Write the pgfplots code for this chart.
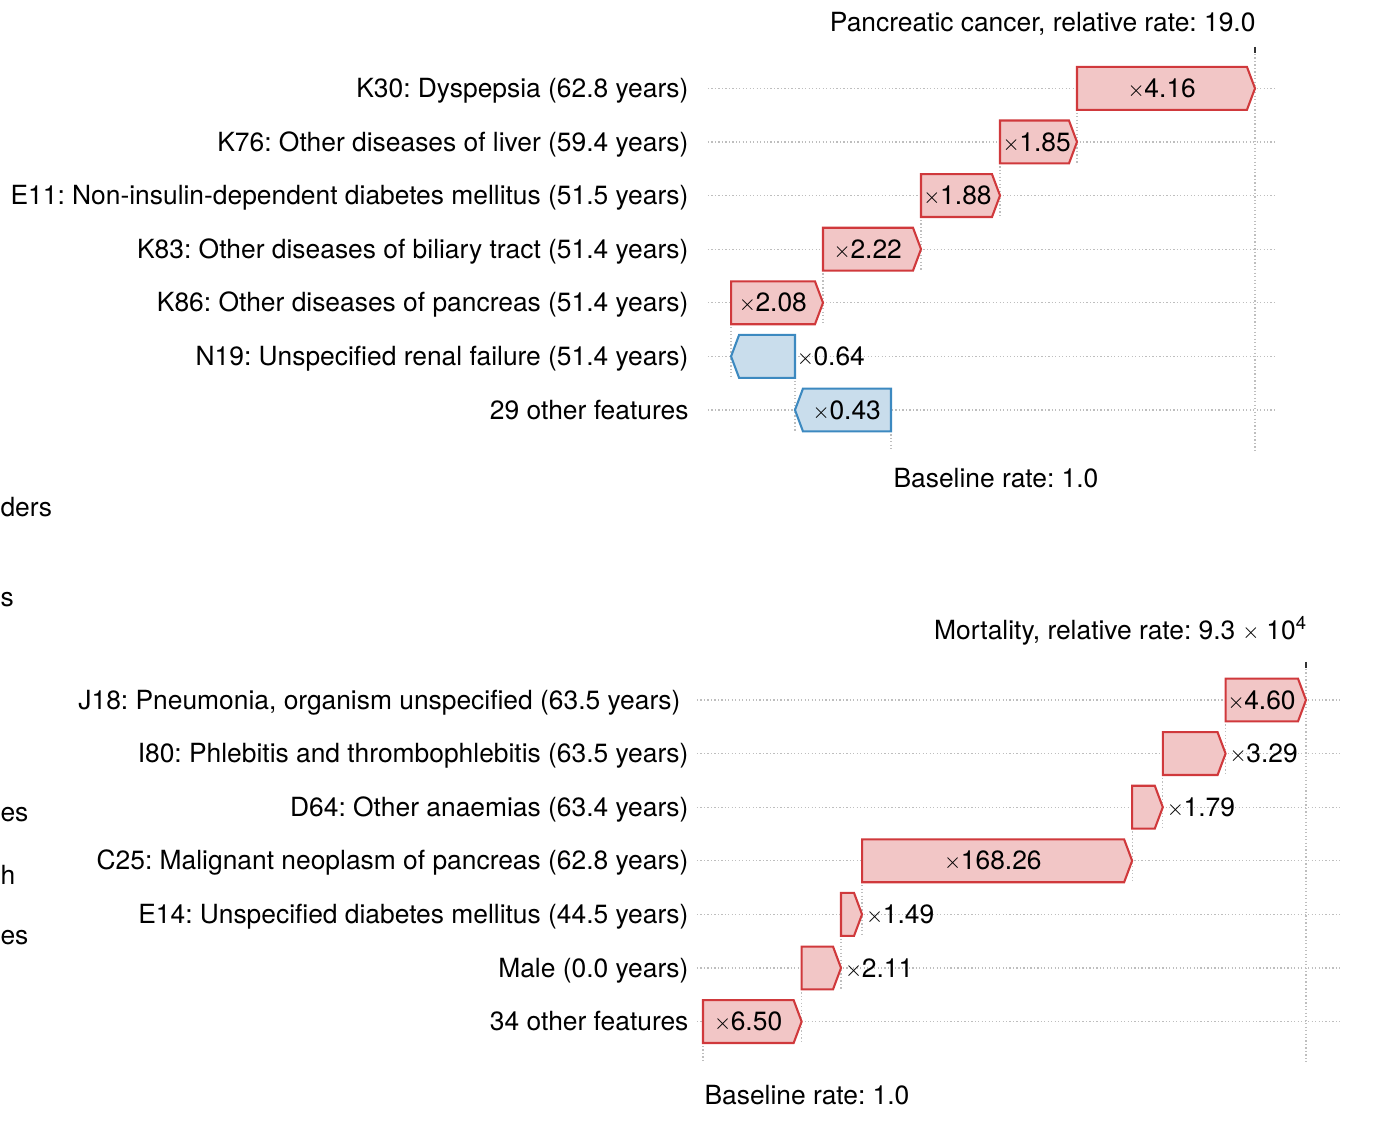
\documentclass[border=0pt]{standalone}
\usepackage{fontspec}
\setmainfont{TeX Gyre Heros}
\usepackage{graphicx}
\usepackage{pgfplots}
\pgfplotsset{compat=1.18}
\definecolor{redfill}{RGB}{242,198,198}
\definecolor{redline}{RGB}{208,57,60}
\definecolor{bluefill}{RGB}{201,221,236}
\definecolor{blueline}{RGB}{60,137,192}
\definecolor{gridc}{RGB}{190,190,190}
\newcommand\tm{\makebox[0.62em][c]{\raisebox{0.04em}{\scalebox{0.86}{$\times$}}}}
\pgfplotsset{
  wf/.style={
    scale only axis, y dir=reverse, clip=false, anchor=south west,
    axis line style={draw=none}, xtick=\empty, ytick={1,2,3,4,5,6,7},
    major tick length=0pt,
    ymajorgrids, grid style={gridc, line width=0.45pt, dash pattern=on 0.45pt off 0.8pt},
  },
  rbar/.style={fill=redfill, draw=redline, line width=0.75pt, line join=miter, mark=none, forget plot},
  bbar/.style={fill=bluefill, draw=blueline, line width=0.75pt, line join=miter, mark=none, forget plot},
  conn/.style={gridc, line width=0.45pt, dash pattern=on 0.45pt off 0.8pt, mark=none, forget plot},
  endtick/.style={black!80, line width=0.8pt, mark=none, forget plot},
}
\tikzset{vlab/.style={anchor=base, inner sep=0pt, yshift=-3.3pt},
         olab/.style={anchor=base west, inner sep=0pt, yshift=-3.3pt, xshift=1.4pt}}
\begin{document}
\frenchspacing
\fontsize{9.5}{11.4}\selectfont
\begin{tikzpicture}
\path[use as bounding box] (0,0) rectangle (504pt,403.56pt);
% ---------------- top panel ----------------
\begin{axis}[wf, at={(254.88pt,241.56pt)}, width=204.48pt, height=145.08pt,
  xmin=-1.4806, xmax=3.1149, ymin=0.228, ymax=7.746,
  yticklabel style={anchor=base east, inner sep=0pt, xshift=-6.84pt, yshift=-3.3pt},
  yticklabels={K30: Dyspepsia (62.8 years),
    K76: Other diseases of liver (59.4 years),
    E11: Non-insulin-dependent diabetes mellitus (51.5 years),
    K83: Other diseases of biliary tract (51.4 years),
    K86: Other diseases of pancreas (51.4 years),
    N19: Unspecified renal failure (51.4 years),
    29 other features}]
% connectors
\addplot[conn] coordinates {(2.945,0.228) (2.945,7.746)};
\addplot[conn] coordinates {(1.505,1) (1.505,2.4)};
\addplot[conn] coordinates {(0.882,2) (0.882,3.4)};
\addplot[conn] coordinates {(0.243,3) (0.243,4.4)};
\addplot[conn] coordinates {(-0.550,4) (-0.550,5.4)};
\addplot[conn] coordinates {(-1.294,5) (-1.294,6.4)};
\addplot[conn] coordinates {(-0.777,6) (-0.777,7.4)};
\addplot[conn] coordinates {(0,7) (0,7.746)};
\addplot[endtick] coordinates {(2.945,0.228) (2.945,0.34)};
% bars
\addplot[rbar] coordinates {(1.505,0.6) (2.880,0.6) (2.945,1) (2.880,1.4) (1.505,1.4)} --cycle;
\addplot[rbar] coordinates {(0.882,1.6) (1.440,1.6) (1.505,2) (1.440,2.4) (0.882,2.4)} --cycle;
\addplot[rbar] coordinates {(0.243,2.6) (0.817,2.6) (0.882,3) (0.817,3.4) (0.243,3.4)} --cycle;
\addplot[rbar] coordinates {(-0.550,3.6) (0.178,3.6) (0.243,4) (0.178,4.4) (-0.550,4.4)} --cycle;
\addplot[rbar] coordinates {(-1.294,4.6) (-0.615,4.6) (-0.550,5) (-0.615,5.4) (-1.294,5.4)} --cycle;
\addplot[bbar] coordinates {(-0.777,5.6) (-1.229,5.6) (-1.294,6) (-1.229,6.4) (-0.777,6.4)} --cycle;
\addplot[bbar] coordinates {(0,6.6) (-0.712,6.6) (-0.777,7) (-0.712,7.4) (0,7.4)} --cycle;
% value labels
\node[vlab] at (axis cs:2.1925,1) {\tm 4.16};
\node[vlab] at (axis cs:1.18,2) {\tm 1.85};
\node[vlab] at (axis cs:0.540,3) {\tm 1.88};
\node[vlab] at (axis cs:-0.186,4) {\tm 2.22};
\node[vlab] at (axis cs:-0.9545,5) {\tm 2.08};
\node[olab, xshift=-0.8pt] at (axis cs:-0.777,6) {\tm 0.64};
\node[vlab] at (axis cs:-0.356,7) {\tm 0.43};
\end{axis}
% ---------------- bottom panel ----------------
\begin{axis}[wf, at={(250.92pt,21.24pt)}, width=231.48pt, height=144pt,
  xmin=-0.1139, xmax=12.087, ymin=0.291, ymax=7.754,
  yticklabel style={anchor=base east, inner sep=0pt, xshift=-2.88pt, yshift=-3.3pt},
  yticklabels={{J18: Pneumonia, organism unspecified (63.5 years)\hspace*{2.88pt}},
    I80: Phlebitis and thrombophlebitis (63.5 years),
    D64: Other anaemias (63.4 years),
    C25: Malignant neoplasm of pancreas (62.8 years),
    E14: Unspecified diabetes mellitus (44.5 years),
    Male (0.0 years),
    34 other features}]
\addplot[conn] coordinates {(11.442,0.291) (11.442,7.754)};
\addplot[conn] coordinates {(9.916,1) (9.916,2.4)};
\addplot[conn] coordinates {(8.725,2) (8.725,3.4)};
\addplot[conn] coordinates {(8.143,3) (8.143,4.4)};
\addplot[conn] coordinates {(3.018,4) (3.018,5.4)};
\addplot[conn] coordinates {(2.619,5) (2.619,6.4)};
\addplot[conn] coordinates {(1.872,6) (1.872,7.4)};
\addplot[conn] coordinates {(0,7) (0,7.754)};
\addplot[endtick] coordinates {(11.442,0.291) (11.442,0.40)};
\addplot[rbar] coordinates {(9.916,0.6) (11.290,0.6) (11.442,1) (11.290,1.4) (9.916,1.4)} --cycle;
\addplot[rbar] coordinates {(8.725,1.6) (9.764,1.6) (9.916,2) (9.764,2.4) (8.725,2.4)} --cycle;
\addplot[rbar] coordinates {(8.143,2.6) (8.573,2.6) (8.725,3) (8.573,3.4) (8.143,3.4)} --cycle;
\addplot[rbar] coordinates {(3.018,3.6) (7.991,3.6) (8.143,4) (7.991,4.4) (3.018,4.4)} --cycle;
\addplot[rbar] coordinates {(2.619,4.6) (2.866,4.6) (3.018,5) (2.866,5.4) (2.619,5.4)} --cycle;
\addplot[rbar] coordinates {(1.872,5.6) (2.467,5.6) (2.619,6) (2.467,6.4) (1.872,6.4)} --cycle;
\addplot[rbar] coordinates {(0,6.6) (1.720,6.6) (1.872,7) (1.720,7.4) (0,7.4)} --cycle;
\node[vlab] at (axis cs:10.603,1) {\tm 4.60};
\node[olab] at (axis cs:9.916,2) {\tm 3.29};
\node[olab] at (axis cs:8.725,3) {\tm 1.79};
\node[vlab] at (axis cs:5.5045,4) {\tm 168.26};
\node[olab] at (axis cs:3.018,5) {\tm 1.49};
\node[olab] at (axis cs:2.619,6) {\tm 2.11};
\node[vlab] at (axis cs:0.860,7) {\tm 6.50};
\end{axis}
% ---------------- free text (pixel coordinates) ----------------
\begin{scope}[shift={(0pt,403.56pt)}, x=0.36pt, y=-0.36pt]
\node[anchor=base east, inner sep=0pt] at (1256,32) {Pancreatic cancer, relative rate: 19.0};
\node[anchor=base west, inner sep=0pt] at (893,488) {Baseline rate: 1.0};
\node[anchor=base east, inner sep=0pt] at (1308,640) {Mortality, relative rate: 9.3 \tm\ 10\textsuperscript{4}};
\node[anchor=base west, inner sep=0pt] at (704,1105) {Baseline rate: 1.0};
\node[anchor=base west, inner sep=0pt] at (0,517) {ders};
\node[anchor=base west, inner sep=0pt] at (0,607) {s};
\node[anchor=base west, inner sep=0pt] at (0,822) {es};
\node[anchor=base west, inner sep=0pt] at (0,885) {h};
\node[anchor=base west, inner sep=0pt] at (0,945) {es};
\end{scope}
\end{tikzpicture}
\end{document}
